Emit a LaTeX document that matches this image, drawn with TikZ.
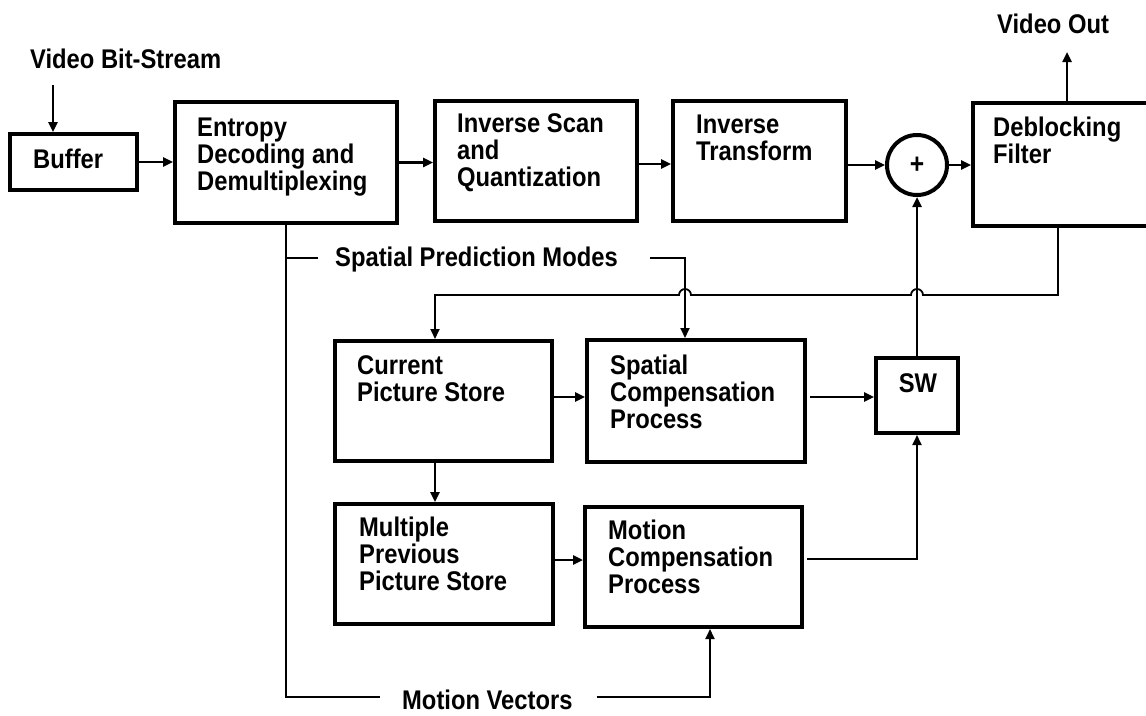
\documentclass[tikz,border=0pt]{standalone}
\usepackage{fontspec}
\setmainfont[FakeStretch=0.88]{Liberation Sans}
\usetikzlibrary{arrows.meta,calc}
\begin{document}
\begin{tikzpicture}[x=1pt,y=-1pt,
  blk/.style={draw, line width=4pt, inner sep=0pt},
  txt/.style={inner sep=0pt, align=left, anchor=base west, font=\fontsize{27}{27}\selectfont\bfseries},
  arr/.style={line width=2.4pt, -{Triangle[length=10pt,width=9pt]}},
  thinl/.style={line width=1.5pt},
  thinarr/.style={line width=1.8pt, -{Triangle[length=10pt,width=9pt]}}
]
\useasboundingbox (0,0) rectangle (1146,715);
% boxes
\node[blk, minimum width=127, minimum height=56] (buf) at (73.5,162) {};
\node[blk, minimum width=222, minimum height=121] (ent) at (286,162.5) {};
\node[blk, minimum width=202, minimum height=120] (isq) at (536,161) {};
\node[blk, minimum width=173, minimum height=120] (itr) at (759.5,161) {};
\node[blk, circle, minimum size=60, font=\fontsize{28}{28}\selectfont\bfseries] (sum) at (917,165) {+};
\node[blk, minimum width=188, minimum height=123] (dbf) at (1067,164.5) {};
\node[blk, minimum width=217, minimum height=120] (cps) at (443.5,401) {};
\node[blk, minimum width=218, minimum height=122] (scp) at (696,401) {};
\node[blk, minimum width=82, minimum height=75] (sw) at (917,395.5) {};
\node[blk, minimum width=218, minimum height=120] (mps) at (444,564) {};
\node[blk, minimum width=217, minimum height=120] (mcp) at (693.5,567) {};
% texts (anchored at baseline of last line)
\node[txt] (bufT) at (33,168) {Buffer};
\node[txt] (entT) at (197,190) {Entropy\\Decoding and\\Demultiplexing};
\node[txt] (isqT) at (457,186) {Inverse Scan\\and\\Quantization};
\node[txt] (itrT) at (696,160) {Inverse\\Transform};
\node[txt] (dbfT) at (993,163) {Deblocking\\Filter};
\node[txt] (cpsT) at (357,401) {Current\\Picture Store};
\node[txt] (scpT) at (610,428) {Spatial\\Compensation\\Process};
\node[txt, anchor=base] (swT) at (918,392) {SW};
\node[txt] (mpsT) at (359,590) {Multiple\\Previous\\Picture Store};
\node[txt] (mcpT) at (608,593) {Motion\\Compensation\\Process};
\node[txt] (vbs) at (30,68) {Video Bit-Stream};
\node[txt] (vo) at (997,33) {Video Out};
\node[txt] (spm) at (335,266) {Spatial Prediction Modes};
\node[txt] (mv) at (402,709) {Motion Vectors};
% helper coordinates
\coordinate (vbsA) at (53,85);
\coordinate (voA) at (1067,52);
\coordinate (fb) at (0,295);
\coordinate (spy) at (0,258);
\coordinate (mvy) at (0,697);
% main chain
\draw[arr] (vbsA) -- (vbsA |- buf.north);
\draw[arr] (buf.east) -- (buf.east -| ent.west);
\draw[arr] (ent.east) -- (ent.east -| isq.west);
\draw[arr] ([yshift=-3pt]isq.east) -- ([yshift=-3pt]isq.east -| itr.west);
\draw[arr] (itr.east |- sum.west) -- (sum.west);
\draw[arr] (sum.east) -- (sum.east -| dbf.west);
\draw[arr] (dbf.north) -- (voA);
% feedback loop with hops
\draw[thinarr] ([xshift=-9pt]dbf.south) |- ($(sum.south |- fb)+(6,0)$)
  arc[start angle=0, end angle=-180, radius=6]
  -- ($(scp.north |- fb)+(-5,0)$)
  arc[start angle=0, end angle=-180, radius=6]
  -- ([xshift=-8.5pt]cps.north |- fb) -- ([xshift=-8.5pt]cps.north);
% spatial prediction modes / motion vectors
\draw[thinl] (ent.south) |- ($(mv.west |- mvy)+(-22,0)$);
\draw[thinl] (ent.south |- spy) -- ($(spm.west |- spy)+(-17,0)$);
\draw[thinarr] ($(spm.east |- spy)+(32,0)$) -| ([xshift=-11pt]scp.north);
\draw[thinarr] ($(mv.east |- mvy)+(24,0)$) -| ([xshift=16.5pt]mcp.south);
% lower section
\draw[arr] ([yshift=4pt]cps.east) -- ([yshift=4pt]cps.east -| scp.west);
\draw[arr] ([yshift=4pt,xshift=3pt]scp.east) -- ([yshift=4pt]scp.east -| sw.west);
\draw[arr] (sw.north) -- (sum.south);
\draw[thinarr] ([yshift=8pt,xshift=3pt]mcp.east) -| (sw.south);
\draw[arr] ([xshift=-8.5pt]cps.south) -- ([xshift=-8.5pt]cps.south |- mps.north);
\draw[arr] ([yshift=4pt]mps.east) -- ([yshift=4pt]mps.east -| mcp.west);
\end{tikzpicture}
\end{document}
